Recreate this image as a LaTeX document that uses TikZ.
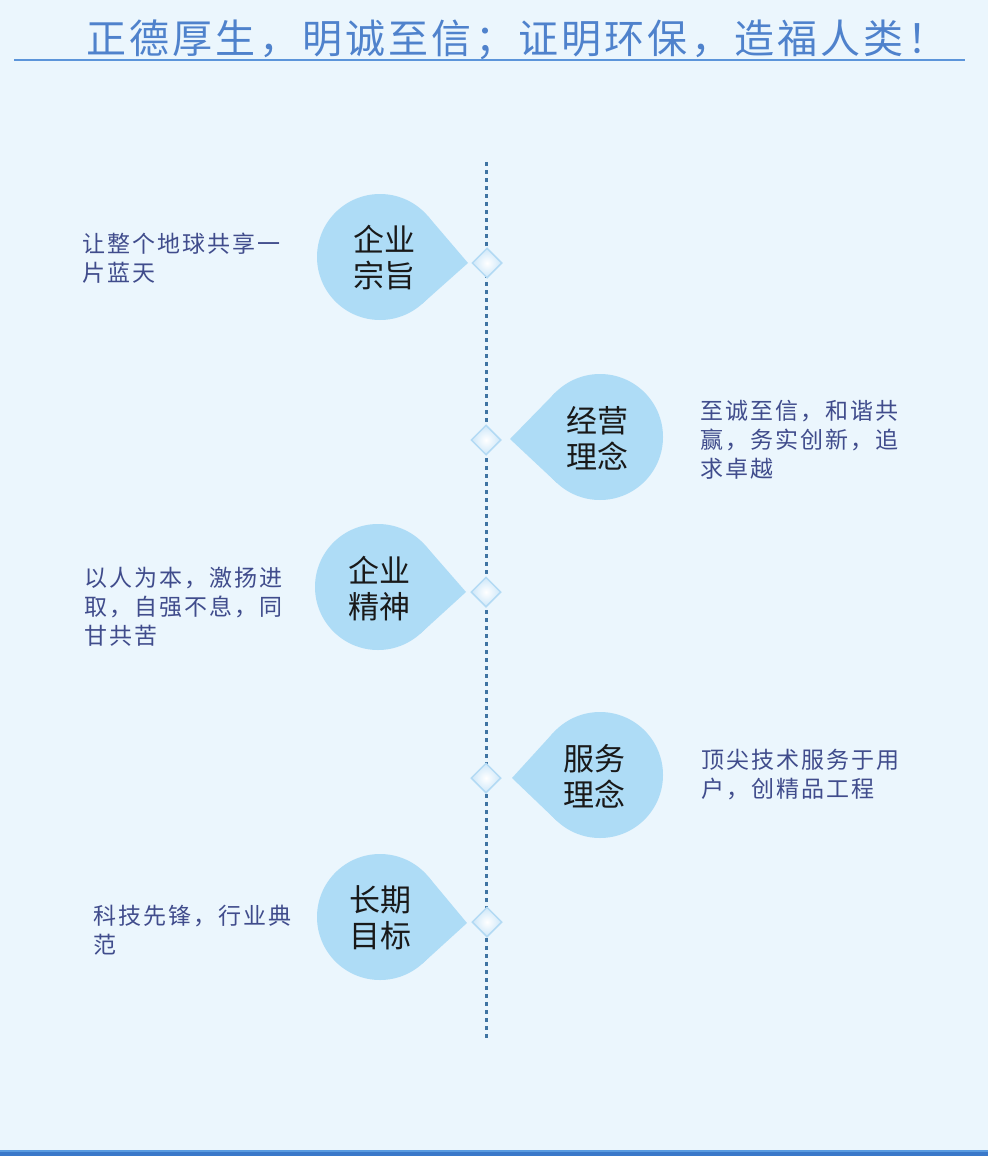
\documentclass[tikz,border=0pt]{standalone}
\usepackage{fontspec}
\setmainfont{Noto Sans CJK SC}
\newfontfamily\bodyfont[LetterSpace=9]{Noto Sans CJK SC}
\newfontfamily\titlefont[LetterSpace=8]{Noto Sans CJK SC}
\usetikzlibrary{calc,shapes.geometric}
\definecolor{bgc}{HTML}{EBF6FD}
\definecolor{dropc}{HTML}{AEDCF6}
\definecolor{titlec}{HTML}{4F82CC}
\definecolor{rulec}{HTML}{5C95DA}
\definecolor{bodyc}{HTML}{404C8C}
\definecolor{linec}{HTML}{3F74A3}
\definecolor{diab}{HTML}{B3DAF4}
\definecolor{diaf}{HTML}{CDE7F9}
\definecolor{barlight}{HTML}{5A9BE0}
\definecolor{bardark}{HTML}{3A78C9}
\tikzset{
  dropcircle/.style={circle, fill=dropc, minimum size=126pt, inner sep=0pt, outer sep=0pt},
  droptext/.style={align=center, text=black!90, font=\fontsize{31}{36}\selectfont, inner sep=0pt},
  bodytext/.style={align=left, text=bodyc, font=\bodyfont\fontsize{23}{29}\selectfont, inner sep=0pt, anchor=base west},
  dia/.style={diamond, minimum width=30pt, minimum height=30pt, inner sep=0pt, draw=diab, line width=1.5pt, inner color=white, outer color=diaf},
  timeline/.style={draw=linec, line width=3pt, dash pattern=on 4pt off 4pt}
}
\begin{document}
\begin{tikzpicture}[x=1pt,y=1pt]
\useasboundingbox (0,0) rectangle (988,-1156);
\fill[bgc] (0,0) rectangle (988,-1156);
% title
\node[anchor=west, inner sep=0pt, text=titlec, font=\titlefont\fontsize{40}{44}\selectfont] (title) at (86,-40) {正德厚生，明诚至信；证明环保，造福人类！};
\draw[rulec, line width=2pt] (14,-60.5) -- (965,-60.5);
% bottom bar
\fill[barlight] (0,-1149.5) rectangle (988,-1152);
\fill[bardark] (0,-1152) rectangle (988,-1156);
% timeline
\coordinate (ltop) at (486,-162);
\coordinate (lbot) at (486,-1040);
\draw[timeline] (ltop) -- (lbot);
% tips
\coordinate (tip1) at (468,-263);
\coordinate (tip2) at (510,-439);
\coordinate (tip3) at (466,-592);
\coordinate (tip4) at (512,-778);
\coordinate (tip5) at (467,-923);
% drops
\foreach \n/\cx/\cy in {1/380/257, 2/600/437, 3/378/587, 4/600/775, 5/380/917}{
  \node[dropcircle] (c\n) at (\cx,-\cy) {};
  \fill[dropc] (tip\n) -- (tangent cs:node=c\n,point={(tip\n)},solution=1) -- (c\n.center) -- (tangent cs:node=c\n,point={(tip\n)},solution=2) -- cycle;
}
\node[droptext] (t1) at (384,-258) {企业\\宗旨};
\node[droptext] (t2) at (597,-438) {经营\\理念};
\node[droptext] (t3) at (379,-589) {企业\\精神};
\node[droptext] (t4) at (594,-776) {服务\\理念};
\node[droptext] (t5) at (380,-918) {长期\\目标};
% diamonds
\node[dia] (d1) at (487,-263) {};
\node[dia] (d2) at (486,-440) {};
\node[dia] (d3) at (486,-592) {};
\node[dia] (d4) at (486,-778) {};
\node[dia] (d5) at (487,-922) {};
% body texts (base = baseline of last line)
\node[bodytext] (b1) at (82,-281) {让整个地球共享一\\片蓝天};
\node[bodytext] (b2) at (700,-477) {至诚至信，和谐共\\赢，务实创新，追\\求卓越};
\node[bodytext] (b3) at (84,-644) {以人为本，激扬进\\取，自强不息，同\\甘共苦};
\node[bodytext] (b4) at (701,-797) {顶尖技术服务于用\\户，创精品工程};
\node[bodytext] (b5) at (93,-953) {科技先锋，行业典\\范};
\end{tikzpicture}
\end{document}
